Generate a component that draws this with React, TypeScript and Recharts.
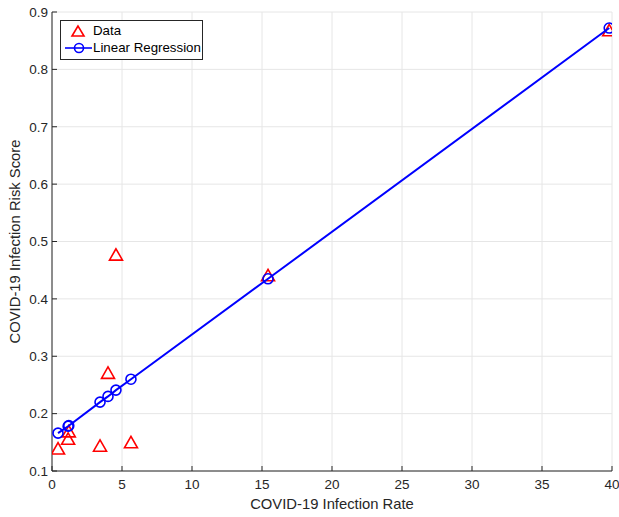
import React from 'react';
import {
  ScatterChart,
  Scatter,
  XAxis,
  YAxis,
  CartesianGrid,
} from 'recharts';

const dataX = [0.43, 1.15, 1.2, 3.43, 4.0, 4.57, 5.64, 15.43, 39.8];
const dataY = [0.138, 0.155, 0.168, 0.143, 0.27, 0.476, 0.149, 0.44, 0.867];

// fitted line points
const fitX = [0.43, 1.15, 1.2, 3.43, 4.0, 4.57, 5.64, 15.43, 39.8];
const fitY = [0.166, 0.178, 0.179, 0.22, 0.23, 0.241, 0.26, 0.435, 0.872];

const xTicks = [0, 5, 10, 15, 20, 25, 30, 35, 40];
const yTicks = [0.1, 0.2, 0.3, 0.4, 0.5, 0.6, 0.7, 0.8, 0.9];

const dataPoints = dataX.map((x, i) => ({ x, y: dataY[i] }));
const fitPoints = fitX.map((x, i) => ({ x, y: fitY[i] }));

const FONT = '"Liberation Sans", Arial, Helvetica, sans-serif';
const AXIS = '#262626';

const Triangle = (props: any) => {
  const { cx, cy } = props;
  if (cx == null || cy == null) return null;
  const s = 6.5;
  return (
    <polygon
      points={`${cx},${cy - s} ${cx - s},${cy + s * 0.75} ${cx + s},${cy + s * 0.75}`}
      fill="none"
      stroke="#ff0000"
      strokeWidth={1.6}
    />
  );
};

const Circle = (props: any) => {
  const { cx, cy } = props;
  if (cx == null || cy == null) return null;
  return <circle cx={cx} cy={cy} r={5} fill="none" stroke="#0000ff" strokeWidth={1.6} />;
};

// MATLAB-style legend box, top-left inside the axes
const LegendBox = () => (
  <div
    style={{
      position: 'absolute',
      left: 60,
      top: 20,
      border: '1px solid #262626',
      background: '#fff',
      width: 143,
      height: 40,
      fontFamily: FONT,
      fontSize: 13.3,
      color: '#000',
      boxSizing: 'border-box',
    }}
  >
    <svg width={32} height={38} style={{ position: 'absolute', left: 1, top: 0 }}>
      <polygon points="16,5 10,15 22,15" fill="none" stroke="#ff0000" strokeWidth={1.6} />
      <line x1={3} y1={27} x2={30} y2={27} stroke="#0000ff" strokeWidth={1.6} />
      <circle cx={17} cy={27} r={4.5} fill="none" stroke="#0000ff" strokeWidth={1.6} />
    </svg>
    <div style={{ position: 'absolute', left: 32, top: 1, lineHeight: '17px' }}>Data</div>
    <div style={{ position: 'absolute', left: 32, top: 18, lineHeight: '17px' }}>Linear Regression</div>
  </div>
);

export default function App() {
  return (
    <div style={{ position: 'absolute', left: 0, top: 0, width: 619, height: 517, background: '#fff' }}>
      <ScatterChart
        width={619}
        height={517}
        margin={{ top: 12, right: 7, bottom: 0, left: 10 }}
        style={{ fontFamily: FONT }}
      >
        <CartesianGrid stroke="#e6e6e6" strokeWidth={1} horizontalValues={yTicks} verticalValues={xTicks} />
        <XAxis
          type="number"
          dataKey="x"
          domain={[0, 40]}
          ticks={xTicks}
          height={46}
          tickSize={-5}
          tickMargin={13}
          stroke={AXIS}
          tick={{ fill: AXIS, fontSize: 13.5 }}
          allowDataOverflow
          label={{ value: 'COVID-19 Infection Rate', position: 'insideBottom', offset: 8, fill: AXIS, fontSize: 14.8 }}
        />
        <XAxis
          xAxisId="top"
          orientation="top"
          type="number"
          domain={[0, 40]}
          ticks={xTicks}
          height={0}
          tickSize={-5}
          tick={false}
          stroke={AXIS}
        />
        <YAxis
          type="number"
          dataKey="y"
          domain={[0.1, 0.9]}
          ticks={yTicks}
          width={42}
          tickSize={-5}
          tickMargin={9}
          stroke={AXIS}
          tick={{ fill: AXIS, fontSize: 13.5 }}
          tickFormatter={(v: number) => String(Math.round(v * 10) / 10)}
          allowDataOverflow
          label={{ value: 'COVID-19 Infection Risk Score', angle: -90, position: 'insideLeft', offset: 5, fill: AXIS, fontSize: 14.8, style: { textAnchor: 'middle' } }}
        />
        <YAxis
          yAxisId="right"
          orientation="right"
          type="number"
          domain={[0.1, 0.9]}
          ticks={yTicks}
          width={0}
          tickSize={-5}
          tick={false}
          stroke={AXIS}
        />
        <Scatter
          name="Data"
          data={dataPoints}
          shape={<Triangle />}
          isAnimationActive={false}
        />
        <Scatter
          name="Linear Regression"
          data={fitPoints}
          shape={<Circle />}
          line={{ stroke: '#0000ff', strokeWidth: 2 }}
          lineType="joint"
          isAnimationActive={false}
        />
      </ScatterChart>
      <LegendBox />
    </div>
  );
}
